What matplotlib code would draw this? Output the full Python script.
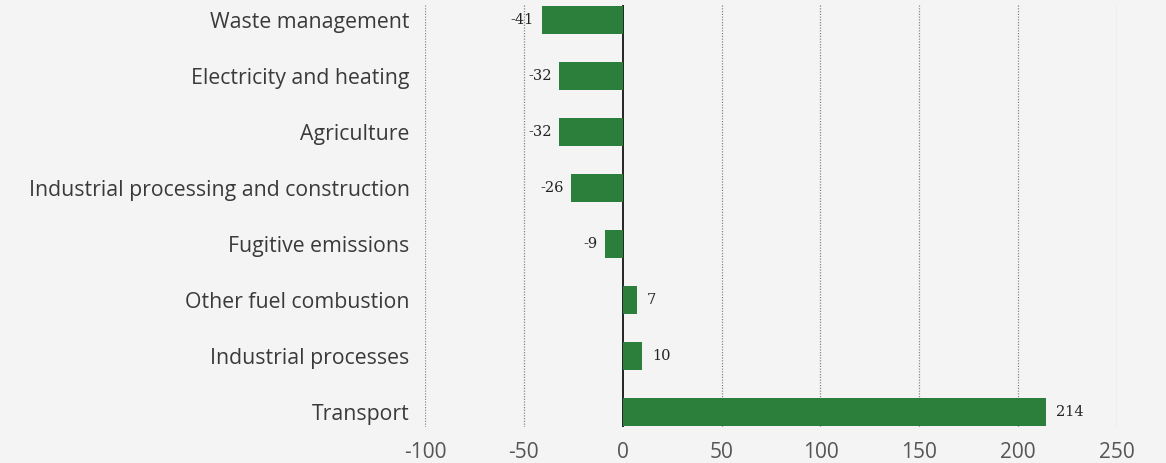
import numpy as np
import matplotlib.pyplot as plt

# Change in emissions by sector (%)
sectors = ['Waste management', 'Electricity and heating', 'Agriculture',
           'Industrial processing and construction', 'Fugitive emissions',
           'Other fuel combustion', 'Industrial processes', 'Transport']
change = [-41, -32, -32, -26, -9, 7, 10, 214]
xticks = [-100, -50, 0, 50, 100, 150, 200, 250]

bg = '#f4f4f4'
green = '#2b7f3b'

fig = plt.figure(figsize=(11.66, 4.63), dpi=100, facecolor=bg)
ax = fig.add_axes([0.3645, 0.078, 0.5935, 0.911], facecolor=bg)

y = np.arange(len(sectors))
ax.barh(y, change, height=0.5, color=green, zorder=3)

# value labels at the end of each bar
for yi, v in zip(y, change):
    if v < 0:
        ax.text(v - 4, yi, str(v), ha='right', va='center', fontsize=10.5,
                family='DejaVu Serif', color='#222222', zorder=4)
    else:
        ax.text(v + 5, yi, str(v), ha='left', va='center', fontsize=10.5,
                family='DejaVu Serif', color='#222222', zorder=4)

ax.set_xlim(-100, 250)
ax.set_ylim(len(sectors) - 1 + 0.27, -0.27)
ax.set_xticks(xticks)
ax.set_xticklabels([str(t) for t in xticks], fontsize=15,
                   family='Open Sans', color='#555555')
ax.set_yticks(y)
ax.set_yticklabels(sectors, fontsize=15.3, family='Open Sans', color='#3a3a3a')
ax.tick_params(length=0)
ax.tick_params(axis='y', pad=11)
ax.tick_params(axis='x', pad=11)

for t in xticks:
    if t == 0:
        ax.axvline(0, color='black', lw=1.2, zorder=2)
    else:
        ax.axvline(t, color='#888888', lw=0.9, ls=(0, (1, 1.2)), zorder=1)

for s in ax.spines.values():
    s.set_visible(False)

fig.savefig('out.png', dpi=100, facecolor=bg)
